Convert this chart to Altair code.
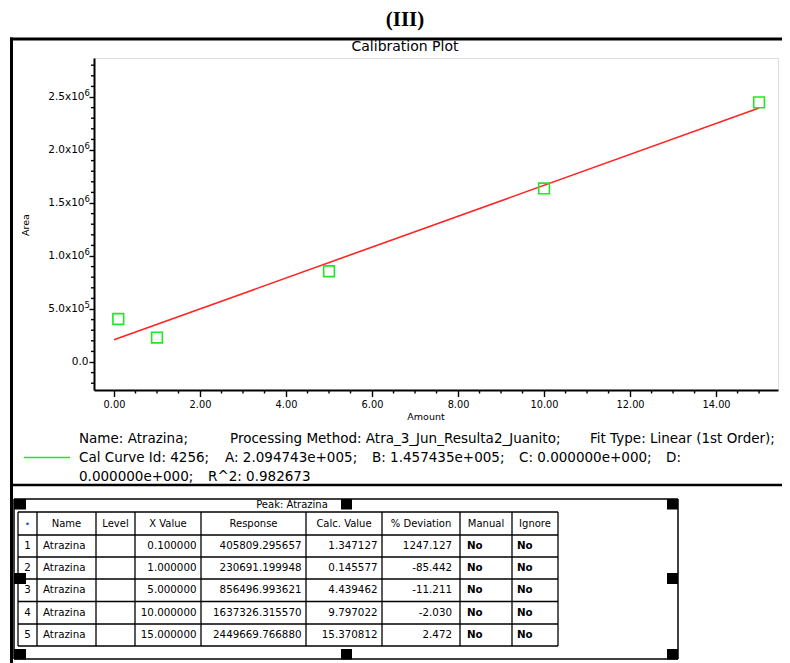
import altair as alt
import numpy as np
import pandas as pd

# ------------------------------------------------------------------ data
amount = [0.1, 1.0, 5.0, 10.0, 15.0]
response = [405809.295657, 230691.199948, 856496.993621, 1637326.315570, 2449669.766880]
fit_A = 2.094743e5
fit_B = 1.457435e5
fit_x = [0.0, 15.0]

x_major = [0, 2, 4, 6, 8, 10, 12, 14]
y_major = [0, 500000, 1000000, 1500000, 2000000, 2500000]
y_mantissa = ["0.0", "5.0x10", "1.0x10", "1.5x10", "2.0x10", "2.5x10"]
y_exponent = ["", "5", "6", "6", "6", "6"]

headers = ["\u2022", "Name", "Level", "X Value", "Response", "Calc. Value", "% Deviation", "Manual", "Ignore"]
row_no = ["1", "2", "3", "4", "5"]
names = ["Atrazina"] * 5
levels = [""] * 5
x_value_txt = ["0.100000", "1.000000", "5.000000", "10.000000", "15.000000"]
response_txt = ["405809.295657", "230691.199948", "856496.993621", "1637326.315570", "2449669.766880"]
calc_value_txt = ["1.347127", "0.145577", "4.439462", "9.797022", "15.370812"]
deviation_txt = ["1247.127", "-85.442", "-11.211", "-2.030", "2.472"]
manual_txt = ["No"] * 5
ignore_txt = ["No"] * 5

legend_segments = [
    ["Name: Atrazina;", "Processing Method: Atra_3_Jun_Resulta2_Juanito;", "Fit Type: Linear (1st Order);"],
    ["Cal Curve Id: 4256;", "A: 2.094743e+005;", "B: 1.457435e+005;", "C: 0.000000e+000;", "D:"],
    ["0.000000e+000;", "R^2: 0.982673"],
]

# ------------------------------------------------------------------ layout (image pixel coordinates)
PLOT_LEFT, PLOT_TOP, W, H = 94, 58, 684, 332
X_DOMAIN = [-0.465, 15.44]
Y_DOMAIN = [-264000, 2868000]
legend_seg_x = [[79, 230, 590], [79, 225, 372, 519, 666], [79, 208]]
legend_line_y = [438.5, 457.5, 476.5]
col_edges = [18, 37, 96, 135, 201, 306, 382, 460, 512, 558]
row_edges = [512, 535, 557, 579, 601.5, 624, 646]
col_align = [("center", 0), ("left", 6), ("left", 6), ("right", 4.5), ("right", 4.5),
             ("right", 4.5), ("right", 8), ("left", 7), ("left", 5)]

GREEN = "#22e622"
RED = "#ff2424"
FONT = "DejaVu Sans"

# ------------------------------------------------------------------ main plot
xs = alt.Scale(domain=X_DOMAIN, nice=False, zero=False)
ys = alt.Scale(domain=Y_DOMAIN, nice=False, zero=False)

xaxis = alt.Axis(values=x_major, format=".2f", title=None, grid=False,
                 domainColor="black", domainWidth=2, tickColor="black", tickWidth=1.4,
                 tickSize=6.5, labelFont=FONT, labelFontSize=9.8, labelColor="black",
                 labelPadding=3, labelFlush=False, labelOverlap=False)
yaxis = alt.Axis(values=y_major, title=None, grid=False, labels=False,
                 domainColor="black", domainWidth=2, tickColor="black", tickWidth=1.4,
                 tickSize=5)

fit_df = pd.DataFrame({"amount": fit_x})
pts_df = pd.DataFrame({"amount": amount, "area": response})
xminor_df = pd.DataFrame({"amount": [v * 0.5 for v in range(0, 31) if v % 4 != 0]})
yminor_df = pd.DataFrame({"area": [v * 100000 for v in range(-2, 29) if v % 5 != 0]})
ylab_df = pd.DataFrame({"area": y_major, "mant": y_mantissa, "exp": y_exponent})

fit_line = alt.Chart(fit_df).transform_calculate(
    area=f"{fit_A} + {fit_B} * datum.amount"
).mark_line(color=RED, strokeWidth=1.6).encode(
    x=alt.X("amount:Q", scale=xs, axis=xaxis),
    y=alt.Y("area:Q", scale=ys, axis=yaxis),
)
points = alt.Chart(pts_df).mark_point(shape="square", size=115, color=GREEN, strokeWidth=1.6,
                                      filled=False, opacity=1).encode(
    x=alt.X("amount:Q", scale=xs, axis=xaxis),
    y=alt.Y("area:Q", scale=ys, axis=yaxis),
)
x_minor = alt.Chart(xminor_df).mark_rule(color="black", strokeWidth=1.4).encode(
    x=alt.X("amount:Q", scale=xs, axis=xaxis),
    y=alt.value(H), y2=alt.value(H + 3.5),
)
y_minor = alt.Chart(yminor_df).mark_rule(color="black", strokeWidth=1.4).encode(
    y=alt.Y("area:Q", scale=ys, axis=yaxis),
    x=alt.value(0), x2=alt.value(-3),
)
y_lab_main = alt.Chart(ylab_df).transform_filter("datum.exp != ''").mark_text(
    font=FONT, fontSize=10.5, align="right", baseline="middle", color="black"
).encode(y=alt.Y("area:Q", scale=ys, axis=yaxis), x=alt.value(-9.5), text="mant:N")
y_lab_exp = alt.Chart(ylab_df).transform_filter("datum.exp != ''").mark_text(
    font=FONT, fontSize=8.5, align="left", baseline="middle", color="black", dy=-4.5
).encode(y=alt.Y("area:Q", scale=ys, axis=yaxis), x=alt.value(-9.5), text="exp:N")
y_lab_zero = alt.Chart(ylab_df).transform_filter("datum.exp == ''").mark_text(
    font=FONT, fontSize=10.5, align="right", baseline="middle", color="black"
).encode(y=alt.Y("area:Q", scale=ys, axis=yaxis), x=alt.value(-5.5), text="mant:N")

main = alt.layer(fit_line, x_minor, y_minor, y_lab_main, y_lab_exp, y_lab_zero, points)

# ------------------------------------------------------------------ page layer (image coords)
PX = alt.Scale(domain=[0, 790], range=[-PLOT_LEFT, 790 - PLOT_LEFT], nice=False, zero=False)
PY = alt.Scale(domain=[0, 663], range=[-PLOT_TOP, 663 - PLOT_TOP], nice=False, zero=False)


def ptext(df, **props):
    return alt.Chart(df).mark_text(**props).encode(
        x=alt.X("x:Q", scale=PX, axis=None),
        y=alt.Y("y:Q", scale=PY, axis=None),
        text="t:N",
    )


leg_rows = []
for li, segs in enumerate(legend_segments):
    for si, s in enumerate(segs):
        leg_rows.append({"x": legend_seg_x[li][si], "y": legend_line_y[li], "t": s})

texts = [
    ptext(pd.DataFrame({"x": [405], "y": [20], "t": ["(III)"]}),
          font="Liberation Serif", fontSize=21, fontWeight="bold", color="black", baseline="middle"),
    ptext(pd.DataFrame({"x": [405], "y": [46.5], "t": ["Calibration Plot"]}),
          font=FONT, fontSize=14, color="black", baseline="middle"),
    ptext(pd.DataFrame({"x": [26], "y": [225], "t": ["Area"]}),
          font=FONT, fontSize=9.5, color="black", baseline="middle", angle=270),
    ptext(pd.DataFrame({"x": [426], "y": [417], "t": ["Amount"]}),
          font=FONT, fontSize=9.5, color="black", baseline="middle"),
    ptext(pd.DataFrame(leg_rows),
          font=FONT, fontSize=13.5, color="black", baseline="middle", align="left"),
    ptext(pd.DataFrame({"x": [292], "y": [505], "t": ["Peak: Atrazina"]}),
          font=FONT, fontSize=10, color="black", baseline="middle"),
]

# table header
hy = (row_edges[0] + row_edges[1]) / 2
hdr = pd.DataFrame({
    "x": [(col_edges[j] + col_edges[j + 1]) / 2 for j in range(1, len(headers))],
    "y": [hy] * (len(headers) - 1),
    "t": headers[1:],
})
texts.append(ptext(hdr, font=FONT, fontSize=10, color="black", baseline="middle"))
texts.append(ptext(pd.DataFrame({"x": [(col_edges[0] + col_edges[1]) / 2], "y": [hy], "t": [headers[0]]}),
                   font=FONT, fontSize=9, color="#2a4bd0", baseline="middle"))

# table cells
columns = [row_no, names, levels, x_value_txt, response_txt, calc_value_txt, deviation_txt,
           manual_txt, ignore_txt]
cells = []
for j, col in enumerate(columns):
    al, pad = col_align[j]
    if al == "center":
        cx = (col_edges[j] + col_edges[j + 1]) / 2
    elif al == "left":
        cx = col_edges[j] + pad
    else:
        cx = col_edges[j + 1] - pad
    for i, val in enumerate(col):
        if val == "":
            continue
        cy = (row_edges[i + 1] + row_edges[i + 2]) / 2
        cells.append({"x": cx, "y": cy, "t": val, "align": al, "bold": val == "No"})
cells = pd.DataFrame(cells)
for al in ["left", "center", "right"]:
    for b in [False, True]:
        sub = cells[(cells["align"] == al) & (cells["bold"] == b)]
        if len(sub) == 0:
            continue
        texts.append(ptext(sub[["x", "y", "t"]], font=FONT, fontSize=10.3, color="black",
                           baseline="middle", align=al, fontWeight="bold" if b else "normal"))

# rules: outer boxes, table frame, table grid
rules = [
    {"x": 10, "x2": 790, "y": 39, "y2": 39, "w": 3},
    {"x": 11.5, "x2": 11.5, "y": 37.5, "y2": 663, "w": 3},
    {"x": 10, "x2": 790, "y": 485, "y2": 485, "w": 2.5},
    {"x": 14, "x2": 678, "y": 499, "y2": 499, "w": 1.5},
    {"x": 14, "x2": 678, "y": 659, "y2": 659, "w": 1.5},
    {"x": 14, "x2": 14, "y": 499, "y2": 659, "w": 1.5},
    {"x": 678, "x2": 678, "y": 499, "y2": 659, "w": 1.5},
]
for cx in col_edges:
    rules.append({"x": cx, "x2": cx, "y": row_edges[0], "y2": row_edges[-1], "w": 1.3})
for ry in row_edges:
    rules.append({"x": col_edges[0], "x2": col_edges[-1], "y": ry, "y2": ry, "w": 1.3})
rules_df = pd.DataFrame(rules)
rule_layer = alt.Chart(rules_df).mark_rule(color="black").encode(
    x=alt.X("x:Q", scale=PX, axis=None), x2="x2:Q",
    y=alt.Y("y:Q", scale=PY, axis=None), y2="y2:Q",
    strokeWidth=alt.StrokeWidth("w:Q", scale=None),
)

legend_line = alt.Chart(pd.DataFrame({"x": [24], "x2": [70], "y": [457.5], "y2": [457.5]})).mark_rule(
    color=GREEN, strokeWidth=1.5).encode(
    x=alt.X("x:Q", scale=PX, axis=None), x2="x2:Q",
    y=alt.Y("y:Q", scale=PY, axis=None), y2="y2:Q",
)

handles = pd.DataFrame({
    "x": [14, 341, 667, 14, 667, 14, 341, 667],
    "x2": [26, 352, 678, 26, 678, 26, 352, 678],
    "y": [499, 499, 499, 573, 573, 649, 649, 649],
    "y2": [509.5, 509.5, 509.5, 584, 584, 659.5, 659.5, 659.5],
})
handle_layer = alt.Chart(handles).mark_rect(color="black").encode(
    x=alt.X("x:Q", scale=PX, axis=None), x2="x2:Q",
    y=alt.Y("y:Q", scale=PY, axis=None), y2="y2:Q",
)

page = alt.layer(*texts, rule_layer, legend_line, handle_layer)

chart = alt.layer(main, page).resolve_scale(x="independent", y="independent").properties(
    width=W, height=H,
    padding={"left": PLOT_LEFT - 8, "top": PLOT_TOP - 8, "right": 774 - (PLOT_LEFT - 8) - W,
             "bottom": 655 - (PLOT_TOP - 8) - H},
    autosize=alt.AutoSizeParams(type="none"),
).configure_view(stroke="#3a3a3a", strokeWidth=2).configure(background="white")

chart.save("out.html", embed_options={"renderer": "svg", "actions": False})
